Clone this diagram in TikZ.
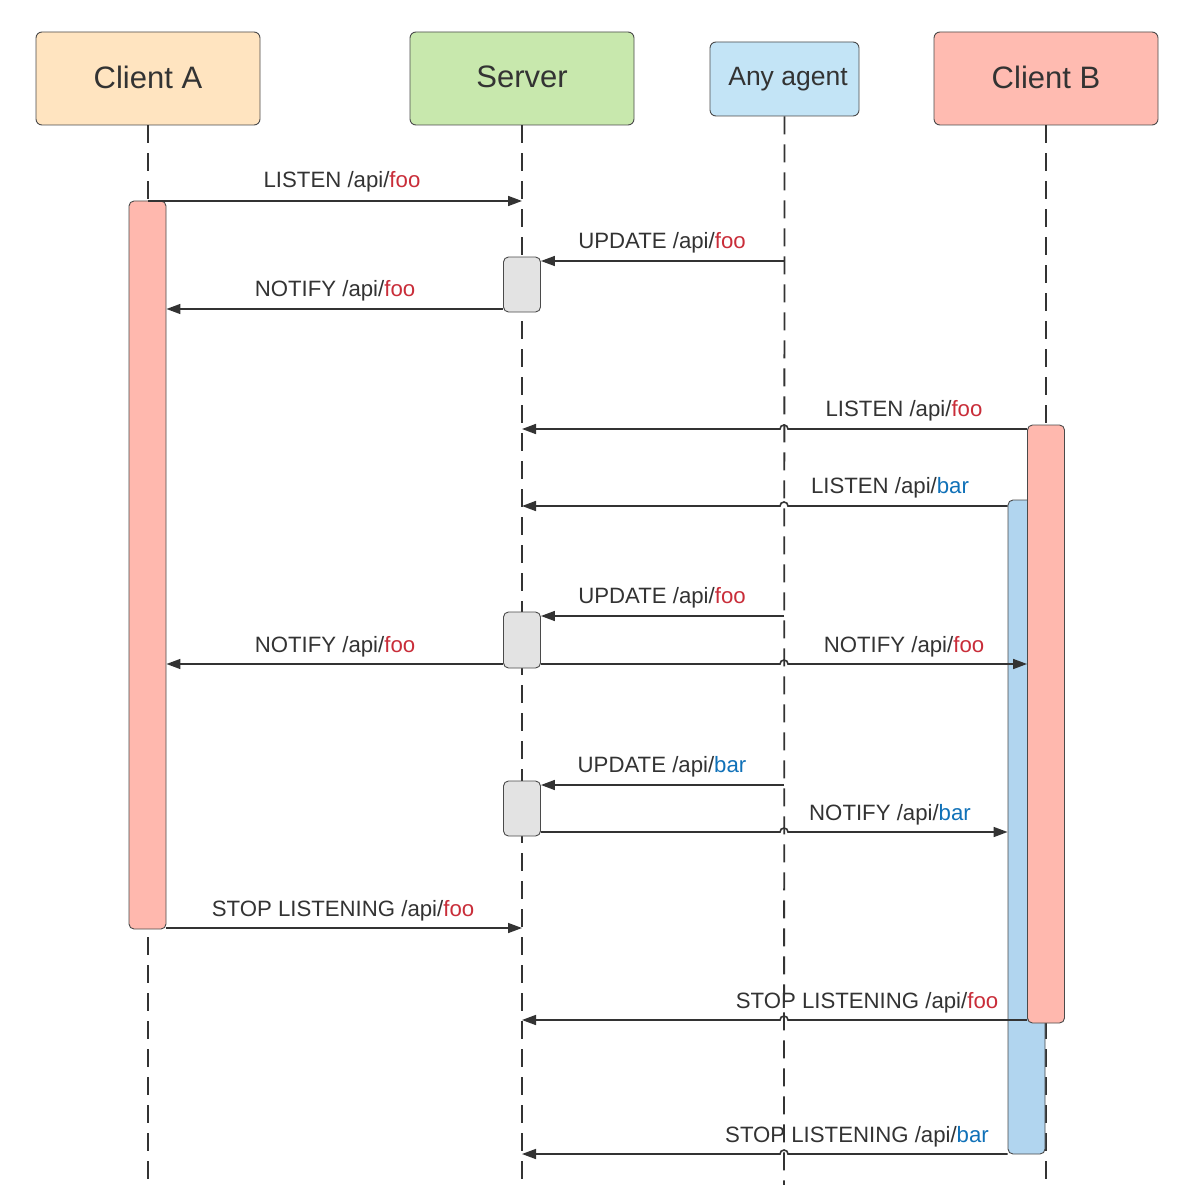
\documentclass[tikz,border=0pt]{standalone}
\usepackage{fontspec}
\setmainfont{Liberation Sans}
\usetikzlibrary{arrows.meta}
\definecolor{ink}{HTML}{333333}
\definecolor{edge}{HTML}{4A4A4A}
\definecolor{fooc}{HTML}{C92D39}
\definecolor{barc}{HTML}{1071B8}
\definecolor{cA}{HTML}{FFE4C0}
\definecolor{cS}{HTML}{C8E8AD}
\definecolor{cG}{HTML}{C3E4F6}
\definecolor{cB}{HTML}{FFBBB1}
\definecolor{actA}{HTML}{FFB8AE}
\definecolor{actBlue}{HTML}{B1D5EF}
\definecolor{actG}{HTML}{E3E3E3}
\newcommand{\myfoo}{\textcolor{fooc}{foo}}
\newcommand{\mybar}{\textcolor{barc}{bar}}
\begin{document}
\begin{tikzpicture}[x=1pt,y=-1pt,
  head/.style={draw=edge,line width=0.9pt,rounded corners=6pt,minimum height=93pt,minimum width=224pt,text=ink,font=\fontsize{31}{33}\selectfont,inner sep=0pt},
  life/.style={draw=ink,line width=1.8pt,dash pattern=on 18pt off 10pt},
  act/.style={draw=edge,line width=0.9pt,rounded corners=5pt,inner sep=0pt,minimum width=37pt},
  msg/.style={draw=ink,line width=1.6pt,-{Triangle[length=14pt,width=10pt]}},
  lbl/.style={text=ink,font=\fontsize{22.2}{24}\selectfont,inner sep=0pt,anchor=base}
]
\useasboundingbox (0,0) rectangle (1204,1185);
\fill[white] (0,0) rectangle (1204,1185);
% headers
\node[head,fill=cA] (hA) at (148,78.5) {\raisebox{3pt}{Client A}};
\node[head,fill=cS] (hS) at (522,78.5) {\raisebox{3pt}{Server}};
\node[head,fill=cG,minimum width=149pt,minimum height=74pt,font=\fontsize{26.5}{28}\selectfont] (hG) at (784.5,79) {\hspace{7pt}\raisebox{2pt}{Any agent}};
\node[head,fill=cB] (hB) at (1046,78.5) {\raisebox{3pt}{Client B}};
% lifelines
\coordinate (eA) at (148,1185);
\coordinate (eS) at (522,1185);
\coordinate (eG) at (784,1185);
\coordinate (eB) at (1046,1185);
\draw[life] (hA.south) -- (eA);
\draw[life] (hS.south) -- (eS);
\draw[life] (hG.south) -- (eG);
\draw[life] (hB.south) -- (eB);
% activations
\node[act,fill=actA,minimum height=728pt] (aA) at (147.5,565) {};
\node[act,fill=actG,minimum height=55pt] (g1) at (522,284.5) {};
\node[act,fill=actG,minimum height=56pt] (g2) at (522,640) {};
\node[act,fill=actG,minimum height=55pt] (g3) at (522,808.5) {};
\node[act,fill=actBlue,minimum height=654pt] (bB) at (1026.5,827) {};
\node[act,fill=actA,minimum height=598pt] (pB) at (1046,724) {};
% message anchor coordinates
\coordinate (m1s) at (148,201);  \coordinate (m1e) at (522,201);
\coordinate (m2s) at (784,261);
\coordinate (m4e) at (522,429);
\coordinate (m5e) at (522,506);
\coordinate (m6s) at (784,616);
\coordinate (m9s) at (784,785);
\coordinate (m11e) at (522,928);
\coordinate (m12e) at (522,1020);
\coordinate (m13e) at (522,1154);
% messages
\draw[msg] (m1s) -- (m1e);
\node[lbl] (t1) at (342,188) {LISTEN /api/\myfoo};
\draw[msg] (m2s) -- (g1.east |- m2s);
\node[lbl] (t2) at (662,248) {UPDATE /api/\myfoo};
\draw[msg] (g1.west |- 0,309) -- (aA.east |- 0,309);
\node[lbl] (t3) at (335,296) {NOTIFY /api/\myfoo};
\draw[msg] (pB.west |- m4e) -- (788,429) arc[start angle=0,end angle=180,radius=4pt] -- (m4e);
\node[lbl] (t4) at (904,416) {LISTEN /api/\myfoo};
\draw[msg] (bB.west |- m5e) -- (788,506) arc[start angle=0,end angle=180,radius=4pt] -- (m5e);
\node[lbl] (t5) at (890,493) {LISTEN /api/\mybar};
\draw[msg] (m6s) -- (g2.east |- m6s);
\node[lbl] (t6) at (662,603) {UPDATE /api/\myfoo};
\draw[msg] (g2.west |- 0,664) -- (aA.east |- 0,664);
\node[lbl] (t7) at (335,652) {NOTIFY /api/\myfoo};
\draw[msg] (g2.east |- 0,664) -- (780,664) arc[start angle=180,end angle=0,radius=4pt] -- (pB.west |- 0,664);
\node[lbl] (t8) at (904,652) {NOTIFY /api/\myfoo};
\draw[msg] (m9s) -- (g3.east |- m9s);
\node[lbl] (t9) at (662,772) {UPDATE /api/\mybar};
\draw[msg] (g3.east |- 0,832) -- (780,832) arc[start angle=180,end angle=0,radius=4pt] -- (bB.west |- 0,832);
\node[lbl] (t10) at (890,820) {NOTIFY /api/\mybar};
\draw[msg] (aA.east |- m11e) -- (m11e);
\node[lbl] (t11) at (343,916) {STOP LISTENING /api/\myfoo};
\draw[msg] (pB.west |- m12e) -- (788,1020) arc[start angle=0,end angle=180,radius=4pt] -- (m12e);
\node[lbl] (t12) at (867,1008) {STOP LISTENING /api/\myfoo};
\draw[msg] (bB.west |- m13e) -- (788,1154) arc[start angle=0,end angle=180,radius=4pt] -- (m13e);
\node[lbl] (t13) at (857,1142) {STOP LISTENING /api/\mybar};
\end{tikzpicture}
\end{document}
